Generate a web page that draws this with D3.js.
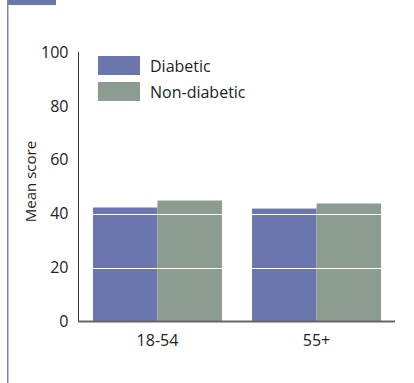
<!DOCTYPE html>
<html><head><meta charset="utf-8">
<script src="https://cdn.jsdelivr.net/npm/d3@7"></script>
<style>body{margin:0;background:#fff;}svg{display:block;font-family:"Open Sans",sans-serif;}</style>
</head><body><svg id="c" width="414" height="383"></svg>
<script>
const categories = ["18-54", "55+"];
const seriesNames = ["Diabetic", "Non-diabetic"];
const diabetic = [42.3, 41.9];
const nonDiabetic = [44.9, 43.8];
const yTicks = [0, 20, 40, 60, 80, 100];
const colors = ["#6b76ae", "#8c9c90"];

const svg = d3.select("#c");
// decorative frame
svg.append("rect").attr("x", 7).attr("y", 0).attr("width", 49).attr("height", 5).attr("fill", "#6b76ae");
svg.append("rect").attr("x", 7).attr("y", 0).attr("width", 1.5).attr("height", 383).attr("fill", "#7a83bb");

const y = d3.scaleLinear().domain([0, 100]).range([321.5, 52]);
const x0 = d3.scaleBand().domain(categories).range([78, 396]).paddingInner(0.189).paddingOuter(0.094);
const x1 = d3.scaleBand().domain(seriesNames).range([0, x0.bandwidth()]);

const data = categories.map((c, i) => ({cat: c, vals: [diabetic[i], nonDiabetic[i]]}));
const g = svg.append("g");
data.forEach(d => {
  d.vals.forEach((v, j) => {
    g.append("rect")
      .attr("x", x0(d.cat) + x1(seriesNames[j]))
      .attr("y", y(v))
      .attr("width", x1.bandwidth())
      .attr("height", y(0) - y(v))
      .attr("fill", colors[j]);
  });
});
// white gridlines
yTicks.filter(t => t > 0).forEach(t => {
  svg.append("line").attr("x1", 79).attr("x2", 395).attr("y1", Math.round(y(t)) + 0.5).attr("y2", Math.round(y(t)) + 0.5)
    .attr("stroke", "#fff").attr("stroke-width", 1);
});

// y axis
const yAxis = d3.axisLeft(y).tickValues(yTicks).tickSize(0).tickPadding(10);
const ya = svg.append("g").attr("transform", "translate(78.5,0)").call(yAxis);
ya.select(".domain").attr("stroke", "#333").attr("d", `M0,${y(100)}V${y(0)}`);
ya.selectAll("text").attr("font-size", 16).attr("fill", "#222").attr("font-family", "Open Sans");

// x axis
const xAxis = d3.axisBottom(x0).tickSize(0).tickPadding(13);
const xa = svg.append("g").attr("transform", `translate(0,${y(0)})`).call(xAxis);
xa.select(".domain").attr("stroke", "#666").attr("stroke-width", 2).attr("d", "M78,0H395");
xa.selectAll("text").attr("font-size", 16).attr("fill", "#222").attr("font-family", "Open Sans");

// y label
svg.append("text").attr("transform", "translate(35.5,181.5) rotate(-90)").attr("text-anchor", "middle")
  .attr("font-size", 15).attr("fill", "#222").text("Mean score");

// legend
const leg = svg.append("g");
seriesNames.forEach((s, i) => {
  leg.append("rect").attr("x", 98).attr("y", 56 + i * 26).attr("width", 42).attr("height", 19).attr("fill", colors[i]);
  leg.append("text").attr("x", 150).attr("y", 72 + i * 26).attr("font-size", 16).attr("fill", "#222").text(s);
});
</script></body></html>
